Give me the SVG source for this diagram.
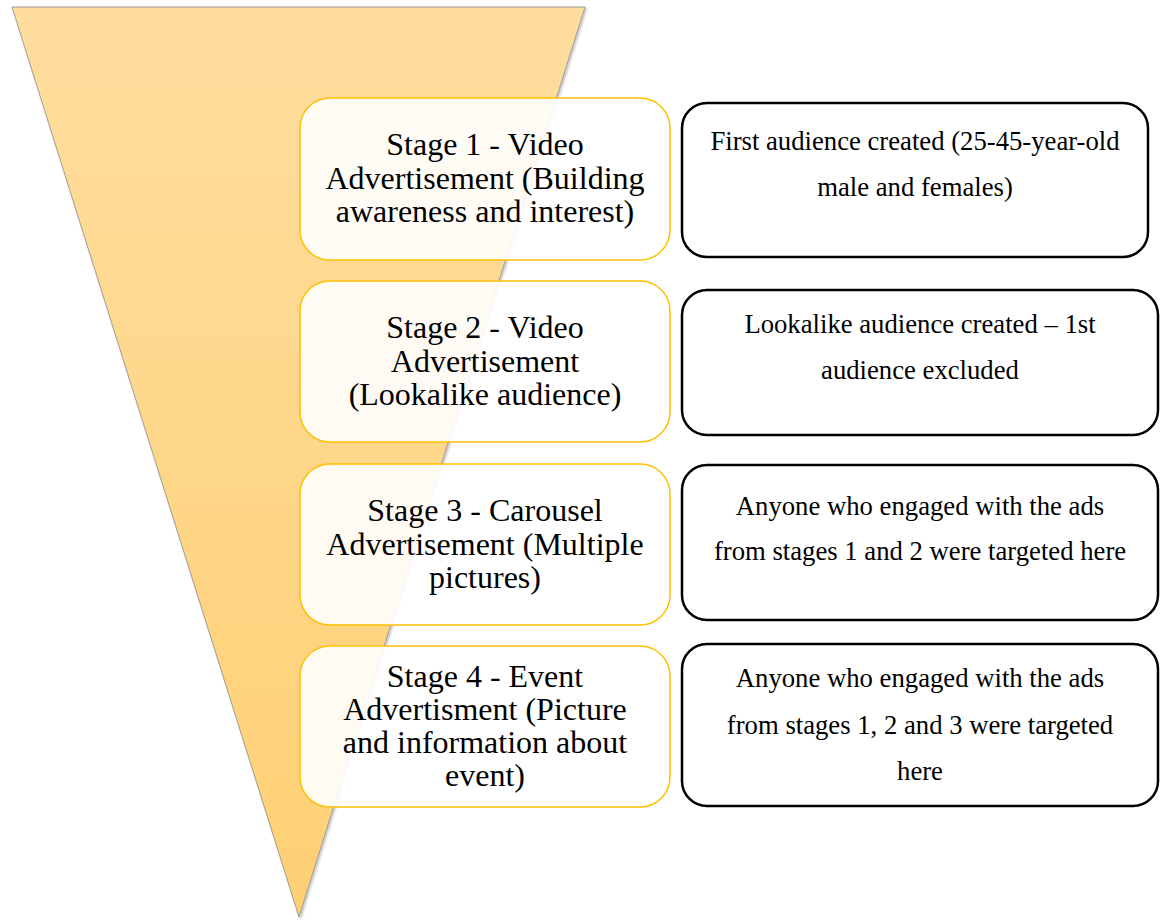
<svg xmlns="http://www.w3.org/2000/svg" width="1160" height="922" viewBox="0 0 1160 922">
  <defs>
    <linearGradient id="funnelFill" x1="0" y1="0" x2="0" y2="1">
      <stop offset="0" stop-color="#FEDD9E"/>
      <stop offset="1" stop-color="#FFD074"/>
    </linearGradient>
    <filter id="softShadow" x="-10%" y="-10%" width="120%" height="120%">
      <feDropShadow dx="1.5" dy="1.5" stdDeviation="1" flood-color="#000" flood-opacity="0.25"/>
    </filter>
  </defs>
  <style>
    .stage { fill: #FFFFFF; fill-opacity: 0.9; stroke: #FFC000; stroke-width: 1.5; }
    .note { fill: #FFFFFF; stroke: #000000; stroke-width: 2.5; }
    .stageText { font-family: "Liberation Serif", "Times New Roman", serif; font-size: 32px; fill: #000; text-anchor: middle; }
    .noteText { font-family: "Liberation Serif", "Times New Roman", serif; font-size: 26.7px; fill: #000; text-anchor: middle; }
  </style>
  <rect width="1160" height="922" fill="#FFFFFF"/>

  <!-- funnel backdrop -->
  <g id="funnel">
    <polygon points="12,7 585,7 299,917" fill="url(#funnelFill)" stroke="#8C8C8C" stroke-width="0.8" filter="url(#softShadow)"/>
  </g>

  <!-- stage boxes -->
  <g id="stage1">
    <rect class="stage" x="300" y="98" width="370" height="162" rx="30"/>
    <text class="stageText" x="485" y="155">Stage 1 - Video</text>
    <text class="stageText" x="485" y="189">Advertisement (Building</text>
    <text class="stageText" x="485" y="222">awareness and interest)</text>
  </g>
  <g id="stage2">
    <rect class="stage" x="300" y="281" width="370" height="161" rx="30"/>
    <text class="stageText" x="485" y="338">Stage 2 - Video</text>
    <text class="stageText" x="485" y="372">Advertisement</text>
    <text class="stageText" x="485" y="405">(Lookalike audience)</text>
  </g>
  <g id="stage3">
    <rect class="stage" x="300" y="464" width="370" height="161" rx="30"/>
    <text class="stageText" x="485" y="521">Stage 3 - Carousel</text>
    <text class="stageText" x="485" y="555">Advertisement (Multiple</text>
    <text class="stageText" x="485" y="588">pictures)</text>
  </g>
  <g id="stage4">
    <rect class="stage" x="300" y="646" width="370" height="161" rx="30"/>
    <text class="stageText" x="485" y="687">Stage 4 - Event</text>
    <text class="stageText" x="485" y="720">Advertisment (Picture</text>
    <text class="stageText" x="485" y="753">and information about</text>
    <text class="stageText" x="485" y="786">event)</text>
  </g>

  <!-- audience notes -->
  <g id="note1">
    <rect class="note" x="682" y="103" width="466" height="154" rx="25"/>
    <text class="noteText" x="915" y="150">First audience created (25-45-year-old</text>
    <text class="noteText" x="915" y="196">male and females)</text>
  </g>
  <g id="note2">
    <rect class="note" x="682" y="290" width="476" height="145" rx="25"/>
    <text class="noteText" x="920" y="333">Lookalike audience created – 1st</text>
    <text class="noteText" x="920" y="379">audience excluded</text>
  </g>
  <g id="note3">
    <rect class="note" x="682" y="465" width="476" height="155" rx="25"/>
    <text class="noteText" x="920" y="515">Anyone who engaged with the ads</text>
    <text class="noteText" x="920" y="560">from stages 1 and 2 were targeted here</text>
  </g>
  <g id="note4">
    <rect class="note" x="682" y="644" width="476" height="162" rx="25"/>
    <text class="noteText" x="920" y="687">Anyone who engaged with the ads</text>
    <text class="noteText" x="920" y="734">from stages 1, 2 and 3 were targeted</text>
    <text class="noteText" x="920" y="780">here</text>
  </g>

  <g id="connectors"/>
</svg>
